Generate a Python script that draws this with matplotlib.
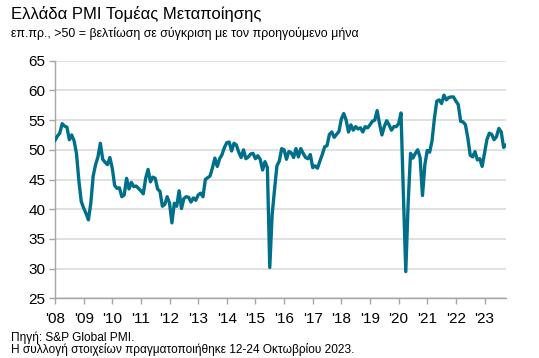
import numpy as np
import matplotlib
matplotlib.use('Agg')
import matplotlib.pyplot as plt

plt.rcParams['font.family'] = ['Liberation Sans', 'DejaVu Sans']

# Ελλάδα PMI μεταποίησης, μηνιαία, Ιαν. 2008 - Οκτ. 2023
pmi_2008 = [51.6, 52.3, 52.8, 54.4, 54.0, 53.8, 51.7, 52.5, 51.5, 49.4, 44.8, 41.3]
pmi_2009 = [40.2, 39.3, 38.2, 41.0, 45.6, 47.5, 48.8, 51.1, 48.4, 47.9, 47.5, 48.7]
pmi_2010 = [46.9, 44.0, 43.5, 43.6, 42.1, 42.4, 45.2, 43.4, 44.5, 43.8, 43.9, 43.5]
pmi_2011 = [43.1, 42.6, 45.2, 46.7, 44.6, 45.4, 45.2, 43.4, 43.0, 40.5, 40.8, 42.1]
pmi_2012 = [41.0, 37.7, 41.0, 40.5, 43.1, 40.1, 41.8, 42.1, 42.0, 41.2, 41.9, 41.5]
pmi_2013 = [42.4, 42.7, 42.1, 45.0, 45.3, 45.6, 47.0, 48.6, 47.2, 48.5, 49.2, 50.4]
pmi_2014 = [51.2, 51.3, 49.8, 51.1, 50.8, 49.6, 48.7, 50.0, 48.5, 48.8, 49.3, 49.4]
pmi_2015 = [48.5, 49.0, 48.4, 46.6, 48.0, 47.0, 30.2, 39.1, 43.3, 47.3, 48.1, 50.2]
pmi_2016 = [50.0, 48.4, 49.7, 49.5, 48.7, 50.2, 48.8, 50.2, 49.4, 48.7, 48.5, 49.2]
pmi_2017 = [47.0, 47.3, 46.9, 48.1, 49.2, 50.5, 50.7, 52.6, 53.0, 52.1, 52.6, 53.1]
pmi_2018 = [55.2, 56.1, 55.0, 53.0, 54.2, 53.3, 53.9, 53.5, 53.7, 53.0, 53.9, 53.7]
pmi_2019 = [54.2, 54.8, 55.0, 56.6, 54.4, 52.5, 53.9, 54.9, 54.2, 53.3, 53.9, 53.9]
pmi_2020 = [54.4, 56.2, 42.5, 29.5, 41.1, 49.4, 48.6, 49.4, 50.0, 48.7, 42.3, 47.5]
pmi_2021 = [49.9, 49.6, 51.5, 55.3, 58.2, 58.4, 57.8, 59.2, 58.4, 58.8, 58.9, 58.9]
pmi_2022 = [58.2, 57.6, 54.8, 54.7, 54.2, 52.0, 49.1, 48.8, 49.7, 48.3, 48.5, 47.2]
pmi_2023 = [49.4, 51.7, 52.8, 52.6, 51.7, 52.2, 53.6, 53.0, 50.4, 50.8]

years = list(range(2008, 2024))
year_labels = ["'%02d" % (y % 100) for y in years]

pmi = np.array(pmi_2008 + pmi_2009 + pmi_2010 + pmi_2011 + pmi_2012 + pmi_2013
               + pmi_2014 + pmi_2015 + pmi_2016 + pmi_2017 + pmi_2018 + pmi_2019
               + pmi_2020 + pmi_2021 + pmi_2022 + pmi_2023)
t = 2008 + np.arange(len(pmi)) / 12.0

W, H = 539, 358
fig = plt.figure(figsize=(W / 100, H / 100), dpi=100)
ax = fig.add_axes([55 / W, 1 - 298.3 / H, 451 / W, 237.6 / H])

ax.plot(t, pmi, color='#00708A', lw=2.4, solid_joinstyle='round', zorder=3)

ax.set_ylim(25, 65)
ax.set_yticks(range(25, 66, 5))
ax.set_xlim(2008, 2023.75)
ax.set_xticks(years)
ax.set_xticklabels(year_labels)
ax.grid(axis='y', color='#D9D9D9', lw=1.1)
ax.set_axisbelow(True)

for s in ['top', 'right']:
    ax.spines[s].set_visible(False)
for s in ['left', 'bottom']:
    ax.spines[s].set_color('#A6A6A6')
    ax.spines[s].set_linewidth(1.0)
ax.tick_params(axis='both', colors='#A6A6A6', length=4, width=1.0,
               labelsize=11, labelcolor='#000000')
ax.tick_params(axis='x', pad=6)
ax.tick_params(axis='y', pad=3)

fig.text(11 / W, 1 - 14 / H, 'Ελλάδα PMI Τομέας Μεταποίησης', fontsize=12,
         va='center', ha='left')
fig.text(11 / W, 1 - 33 / H,
         'επ.πρ., >50 = βελτίωση σε σύγκριση με τον προηγούμενο μήνα',
         fontsize=8.9, va='center', ha='left')
fig.text(11 / W, 1 - 337.5 / H, 'Πηγή: S&P Global PMI.', fontsize=8.6,
         va='center', ha='left')
fig.text(11 / W, 1 - 349 / H,
         'Η συλλογή στοιχείων πραγματοποιήθηκε 12-24 Οκτωβρίου 2023.',
         fontsize=8.6, va='center', ha='left')

fig.savefig('out.png', dpi=100)
